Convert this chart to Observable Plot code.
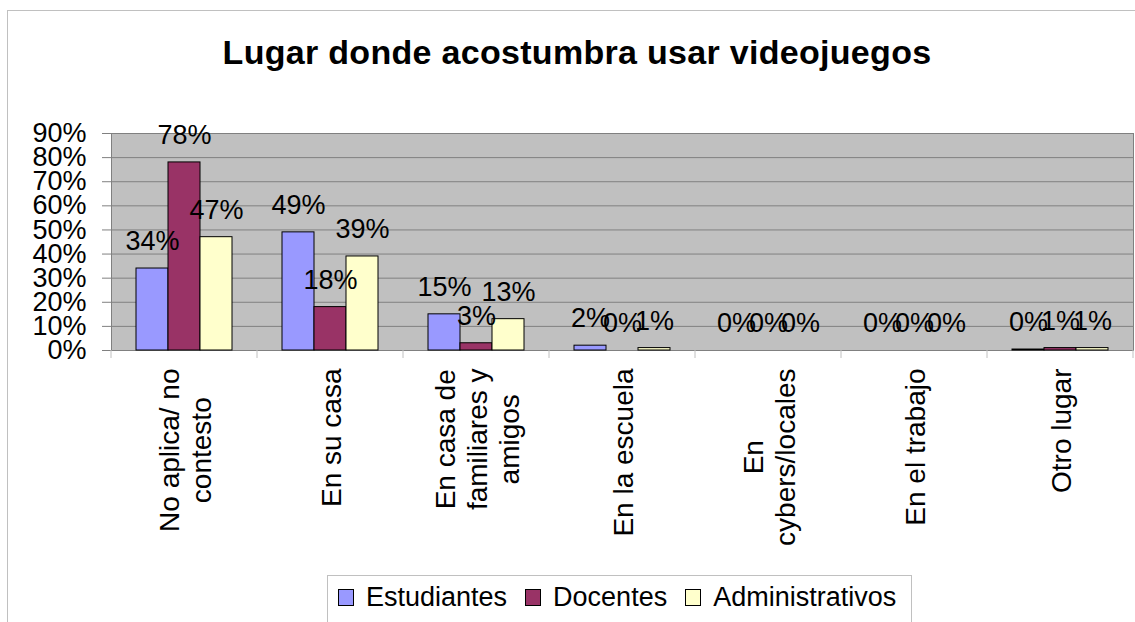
<!DOCTYPE html>
<html><head><meta charset="utf-8">
<script src="https://cdn.jsdelivr.net/npm/d3@7"></script>
<script src="https://cdn.jsdelivr.net/npm/@observablehq/plot@0.6"></script>
<style>
html,body{margin:0;padding:0;background:#fff;overflow:hidden;}
body{width:1135px;height:622px;position:relative;font-family:"Liberation Sans",Arial,sans-serif;color:#000;}
#border{position:absolute;left:7px;top:10px;width:1140px;height:630px;border:1px solid #c0c0c0;}
#title{position:absolute;left:577px;top:35px;transform:translateX(-50%);white-space:nowrap;font-weight:bold;font-size:34px;line-height:34px;letter-spacing:0.3px;}
#chart{position:absolute;left:0;top:0;}
#legend{position:absolute;left:327px;top:575px;width:585px;height:60px;border:1px solid #c0c0c0;background:#fff;display:flex;align-items:baseline;padding:8px 0 0 10px;box-sizing:border-box;font-size:27px;line-height:27px;}
.sw{width:16px;height:17px;border:1px solid #000;box-sizing:border-box;margin-right:12px;}
.it{display:flex;align-items:baseline;margin-right:18px;}
</style>
</head><body>
<div id="border"></div>
<div id="chart"></div>
<div id="title"></div>
<div id="legend"></div>
<script>
const titleText = "Lugar donde acostumbra usar videojuegos";
const categories = ["No aplica/ no contesto", "En su casa", "En casa de familiares y amigos", "En la escuela", "En cybers/locales", "En el trabajo", "Otro lugar"];
const tickLabels = ["No aplica/ no\ncontesto", "En su casa", "En casa de\nfamiliares y\namigos", "En la escuela", "En\ncybers/locales", "En el trabajo", "Otro lugar"];
const series = ["Estudiantes", "Docentes", "Administrativos"];
const colors = ["#9999ff", "#993366", "#ffffcc"];
const estudiantes = [0.34, 0.49, 0.15, 0.02, 0, 0, 0.004];
const docentes = [0.78, 0.18, 0.03, 0, 0, 0, 0.01];
const administrativos = [0.47, 0.39, 0.13, 0.01, 0, 0, 0.01];
const yTicks = [0, 0.1, 0.2, 0.3, 0.4, 0.5, 0.6, 0.7, 0.8, 0.9];

const seriesValues = [estudiantes, docentes, administrativos];
const rows = categories.flatMap((c, i) => seriesValues.map((arr, j) => ({cat: c, series: series[j], value: arr[i]})));
const pct = d3.format(".0%");

document.getElementById("title").textContent = titleText;

const plot = Plot.plot({
  width: 1135, height: 560, marginTop: 133, marginBottom: 210, marginLeft: 111, marginRight: 2,
  style: {fontFamily: '"Liberation Sans", Arial, sans-serif', fontSize: "27px", color: "black", background: "transparent", overflow: "visible"},
  fx: {domain: categories, padding: 0, label: null},
  x: {domain: series, paddingInner: 0, paddingOuter: 0.72, axis: null, label: null},
  y: {domain: [0, 0.9], label: null},
  color: {domain: series, range: colors},
  marks: [
    Plot.frame({facet: "super", fill: "#c0c0c0", stroke: "none"}),
    Plot.gridY(yTicks, {stroke: "#808080", strokeOpacity: 1}),
    Plot.frame({facet: "super", anchor: "left", stroke: "#808080"}),
    Plot.frame({facet: "super", anchor: "right", stroke: "#808080"}),
    Plot.barY(rows.filter(d => d.value > 0), {fx: "cat", x: "series", y: "value", fill: "series", stroke: "black", strokeWidth: 1}),
    Plot.text(rows, {fx: "cat", x: "series", y: "value", text: d => pct(d.value), dy: -27, fontSize: 27, fill: "black"}),
    Plot.axisY(yTicks, {tickSize: 9, tickPadding: 16, tickFormat: pct, stroke: "#808080", fill: "black", fontSize: 27, label: null}),
    Plot.axisFx({anchor: "bottom", tickSize: 0, tickPadding: 18, tickRotate: -90, tickFormat: d => tickLabels[categories.indexOf(d)], fontSize: 28, lineHeight: 1.15, textAnchor: "end", lineAnchor: "middle", fill: "black", label: null})
  ]
});
document.getElementById("chart").append(plot);

// center the lines of multi-line category labels relative to each other
plot.querySelectorAll('g[aria-label="fx-axis tick label"] text').forEach(t => {
  const spans = t.querySelectorAll("tspan");
  if (spans.length > 1) {
    let L = 0;
    spans.forEach(s => { L = Math.max(L, s.getComputedTextLength()); });
    t.setAttribute("text-anchor", "middle");
    spans.forEach(s => s.setAttribute("x", -L / 2));
  }
});

// category boundary ticks below the axis, from the plot's own scales
const fxScale = plot.scale("fx");
const yScale = plot.scale("y");
const bounds = categories.map(c => fxScale.apply(c)).concat([fxScale.apply(categories[categories.length - 1]) + fxScale.bandwidth]);
const y0 = yScale.apply(0);
d3.select(plot).append("g").attr("aria-label", "category ticks")
  .selectAll("line").data(bounds).join("line")
  .attr("x1", d => d).attr("x2", d => d)
  .attr("y1", y0).attr("y2", y0 + 8)
  .attr("stroke", "#c0c0c0");

const legend = document.getElementById("legend");
series.forEach((s, i) => {
  const it = document.createElement("div");
  it.className = "it";
  const sw = document.createElement("div");
  sw.className = "sw";
  sw.style.background = colors[i];
  const tx = document.createElement("span");
  tx.textContent = s;
  it.append(sw, tx);
  legend.append(it);
});
</script>
</body></html>
